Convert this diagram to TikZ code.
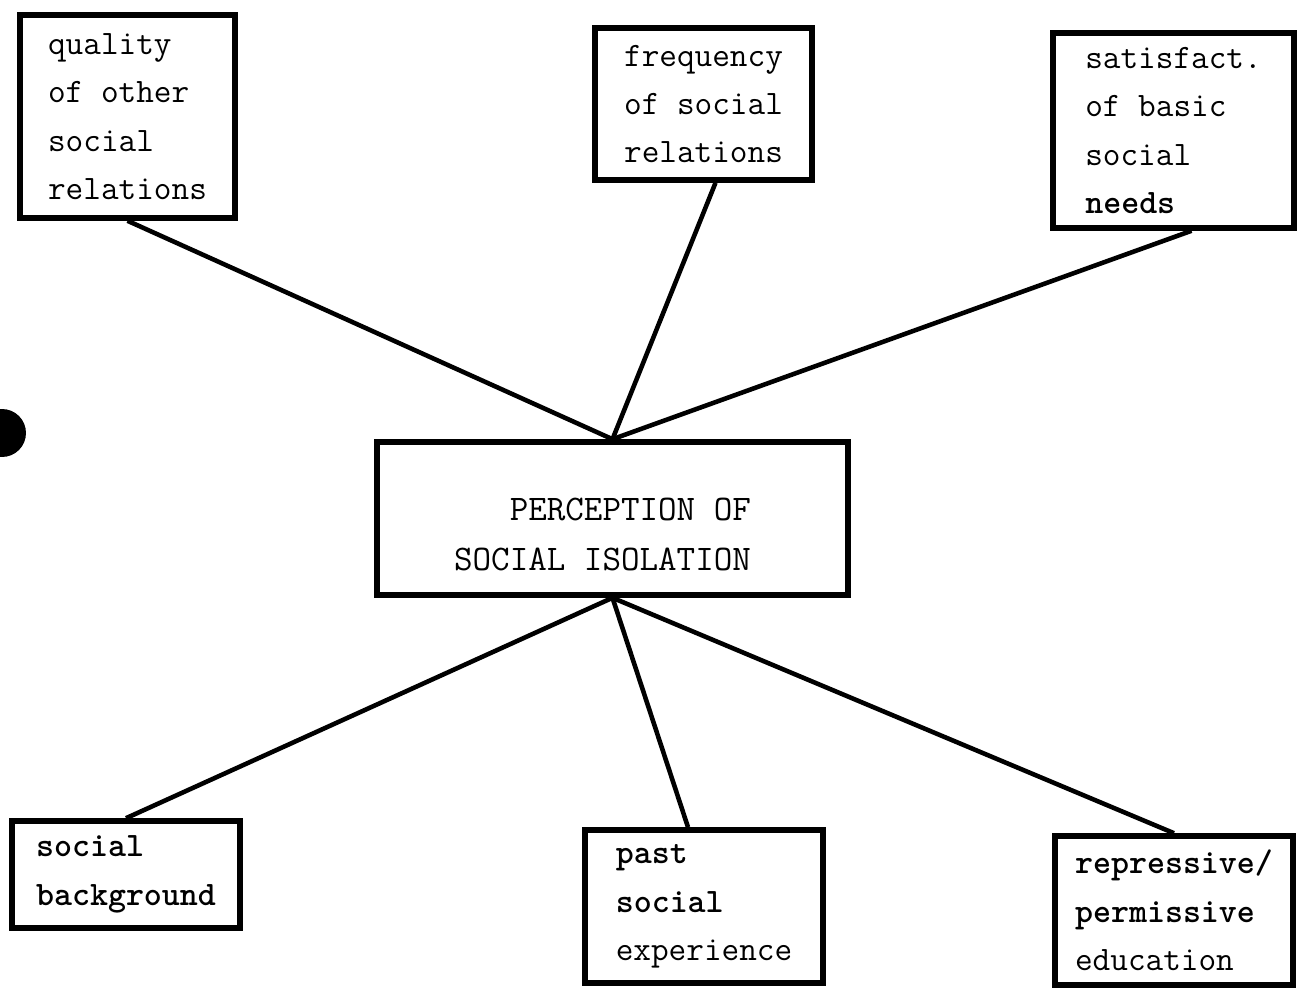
\documentclass[tikz,border=0pt]{standalone}
\usepackage{tikz}
\usetikzlibrary{calc}
\tikzset{>=latex}
\tikzset{factor/.style={draw,line width=3.2pt,align=left,inner sep=0pt,font=\ttfamily\fontsize{19.5}{27.5}\selectfont}}
\tikzset{link/.style={line width=2.6pt}}

\begin{document}
\begin{tikzpicture}[x=0.02cm,y=-0.02cm]
  \useasboundingbox (0,0) rectangle (1297,989);

  % Punch hole
  \fill (2,433) circle (0.48cm);

  % Central box
  \node[factor,align=right,minimum width=9.42cm,minimum height=3.06cm,font=\ttfamily\fontsize{20.5}{28.5}\selectfont] (percep) at (612.5,518.5) {\rule{0pt}{1.1cm}PERCEPTION OF\hspace*{0.4cm}\\SOCIAL ISOLATION\hspace*{0.4cm}};

  % Upper factors
  \node[factor,minimum width=4.3cm,minimum height=4.06cm] (quality) at (127.5,116.5) {quality\\of other\\social\\relations};
  \node[factor,minimum width=4.34cm,minimum height=3.04cm] (frequency) at (703.5,104) {frequency\\of social\\relations};
  \node[factor,minimum width=4.82cm,minimum height=3.9cm] (satisf) at (1173.5,130.5) {satisfact.\\of basic\\social\\\textbf{needs}};

  % Lower factors
  \node[factor,minimum width=4.56cm,minimum height=2.14cm] (backgr) at (126,874.5) {\textbf{social}\\\textbf{background}};
  \node[factor,minimum width=4.76cm,minimum height=3.06cm] (past) at (704,906.5) {\textbf{past}\\\textbf{social}\\experience};
  \node[factor,minimum width=4.76cm,minimum height=2.98cm] (educ) at (1174,910.5) {\textbf{repressive/}\\\textbf{permissive}\\education};

  % Links
  \draw[link] (quality.south) -- (percep.north);
  \draw[link] ([xshift=0.24cm]frequency.south) -- (percep.north);
  \draw[link] ([xshift=0.36cm]satisf.south) -- (percep.north);
  \draw[link] (percep.south) -- (backgr.north);
  \draw[link] (percep.south) -- ([xshift=-0.32cm]past.north);
  \draw[link] (percep.south) -- (educ.north);
\end{tikzpicture}
\end{document}
